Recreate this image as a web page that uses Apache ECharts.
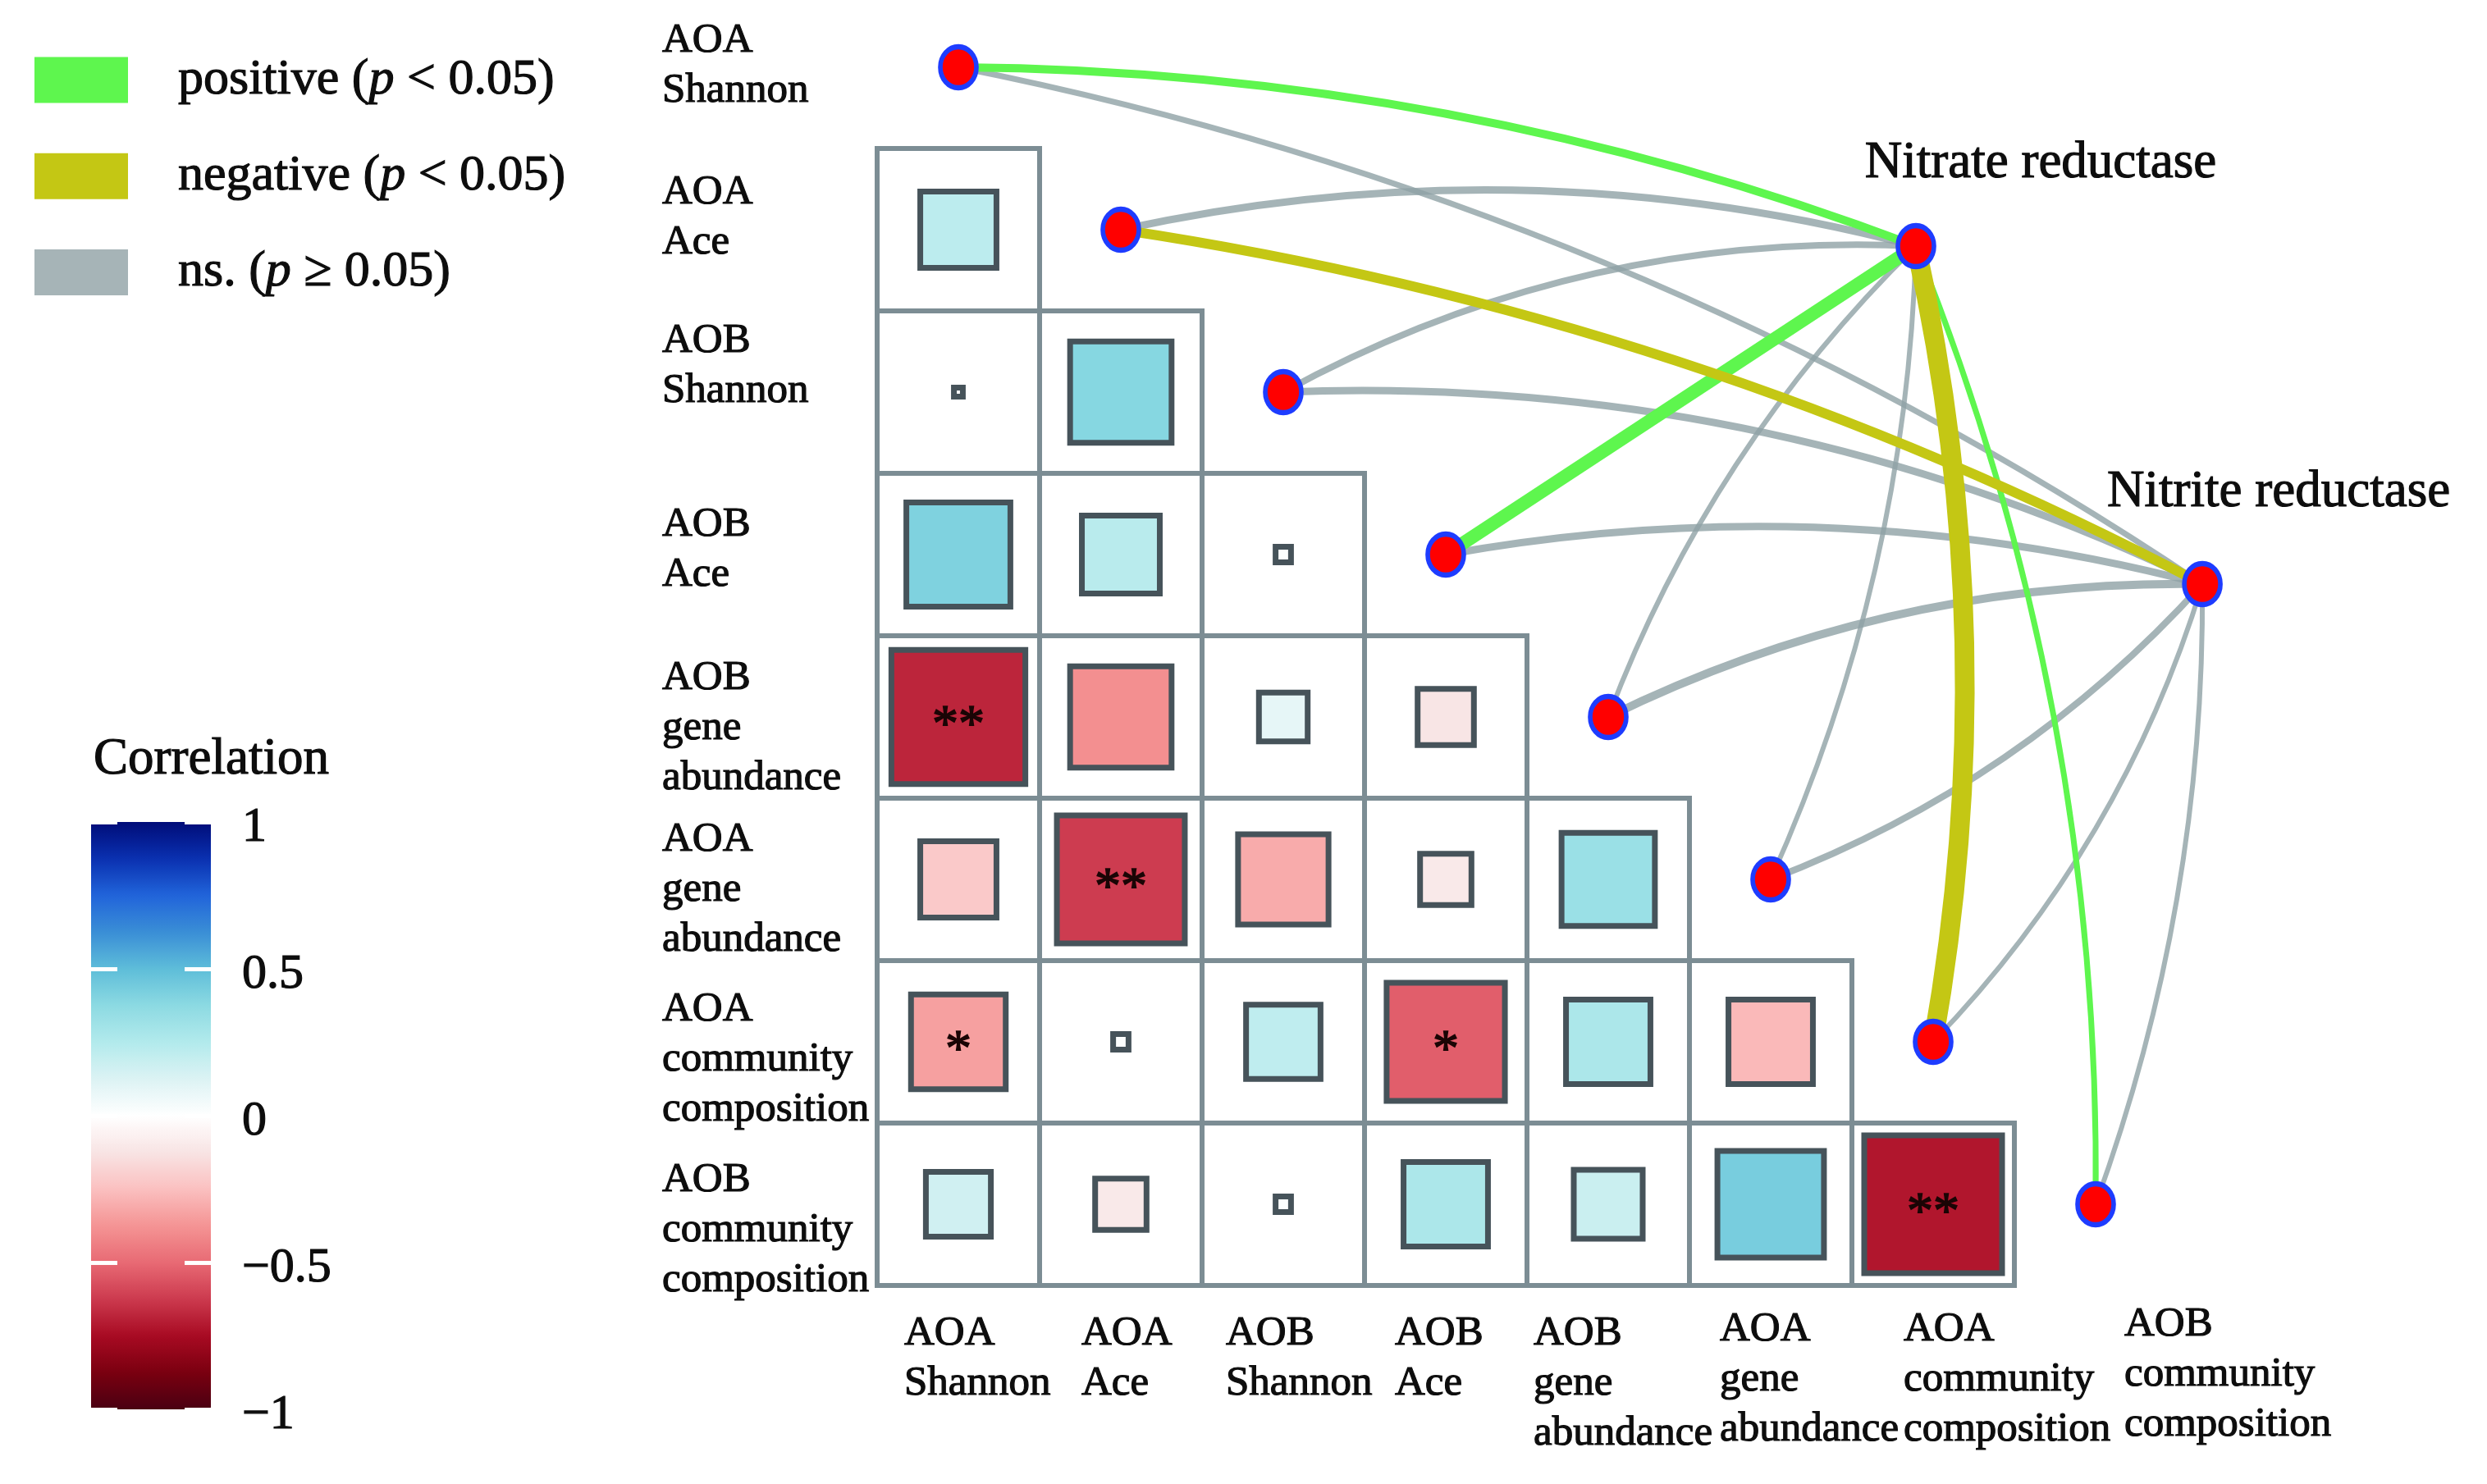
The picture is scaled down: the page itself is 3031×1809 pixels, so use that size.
<!DOCTYPE html>
<html><head><meta charset="utf-8">
<script src="https://cdn.jsdelivr.net/npm/echarts@6/dist/echarts.min.js"></script>
<style>html,body{margin:0;padding:0;background:#fff}#c{width:3031px;height:1809px}</style>
</head><body><div id="c"></div>
<script>
// ---------------- DATA ----------------
const variables = ['AOA\nShannon','AOA\nAce','AOB\nShannon','AOB\nAce','AOB\ngene\nabundance','AOA\ngene\nabundance','AOA\ncommunity\ncomposition','AOB\ncommunity\ncomposition'];
// lower-triangle correlations: row i (1..7) vs columns 0..i-1
const corrRows = [
  [0.22],
  [0.003, 0.39],
  [0.41, 0.23, 0.009],
  [-0.68, -0.39, 0.09, -0.12],
  [-0.22, -0.62, -0.31, -0.10, 0.33],
  [-0.34, 0.009, 0.21, -0.53, 0.27, -0.27],
  [0.16, -0.10, 0.009, 0.27, 0.18, 0.43, -0.72]
];
const sigRows = [
  [''],
  ['', ''],
  ['', '', ''],
  ['**', '', '', ''],
  ['', '**', '', '', ''],
  ['*', '', '', '*', '', ''],
  ['', '', '', '', '', '', '**']
];
const enzymes = ['Nitrate reductase', 'Nitrite reductase'];
const mantelNitrate = [0.25, 0.225, 0.2, 0.4, 0.15, 0.15, 0.6, 0.175];
const signNitrate   = ['pos', 'ns', 'ns', 'pos', 'ns', 'ns', 'neg', 'pos'];
const mantelNitrite = [0.175, 0.3, 0.225, 0.225, 0.25, 0.2, 0.15, 0.15];
const signNitrite   = ['ns', 'neg', 'ns', 'ns', 'ns', 'ns', 'ns', 'ns'];
const colorbarTicks = [-1, -0.5, 0, 0.5, 1];
const legendNames = ['pos', 'neg', 'ns'];

// ---------------- LAYOUT / STYLE ----------------
const U = 198, OX = 1069, OY = -17;
const XMIN = -1.5, XMAX = 9.6, YMIN = 0.2, YMAX = 9.1;
const FONT = '"Liberation Serif","Times New Roman",serif';
const TXT = '#0d0d0d';
const BOLDEN = { textBorderColor: TXT, textBorderWidth: 1.2 };
const enzymeAnchor = [[6.394, 1.601], [8.157, 3.682]];
const enzymeLabelOffset = [[152, -101], [93, -112]];
const curveNitrate = [0.09, 0.12, 0.14, 0.0, 0.11, -0.10, -0.10, -0.10];
const curveNitrite = [0.10, 0.085, 0.125, 0.11, 0.12, -0.12, -0.12, -0.09];
const yLabelOffset = [-2, -15, -32, -6, 14, 13, 22, 32];
const xLabelDx = [-66, -48, -70, -62, -91, -62, -36, 35];
const xLabelDy = [0, 0, 0, 0, 0, -5, -5, -11];
const edgeColors = { pos: '#5EF64E', neg: '#C4C714', ns: '#8FA1A5' };
const legendColors = { pos: '#5EF64E', neg: '#C4C714', ns: '#A6B4B7' };
const colorStops = ['#4A0012','#7A0010','#A80A22','#CC3A4E','#E86A74','#F49494','#FBC0C0','#F8E4E4','#FFFFFF','#DCF3F4','#B2EAEC','#8CDAE2','#5EBDD9','#3A8ED6','#2164DA','#0A30B0','#000C78'];

// ---------------- BUILD ----------------
const cellData = [], cellSig = [];
corrRows.forEach((row, i) => row.forEach((v, c) => { cellData.push([c, i + 1, v]); cellSig.push(sigRows[i][c]); }));

const edgeData = { pos: [], neg: [], ns: [] };
variables.forEach((_, i) => {
  [[mantelNitrate, signNitrate, curveNitrate], [mantelNitrite, signNitrite, curveNitrite]].forEach((m, j) => {
    edgeData[m[1][i]].push({ coords: [[i + 0.5, i + 0.5], enzymeAnchor[j]], lineStyle: { width: m[0][i] * 40, curveness: m[2][i] } });
  });
});

const nodeData = variables.map((_, i) => ({ value: [i + 0.5, i + 0.5] }))
  .concat(enzymes.map((n, j) => ({ name: n, value: enzymeAnchor[j], label: Object.assign({ show: true, position: 'inside', offset: enzymeLabelOffset[j], formatter: n, color: TXT, fontFamily: FONT, fontSize: 63 }, BOLDEN) })));

const yLabelData = variables.map((n, i) => ({ value: [(807 - OX) / U, i + 0.5 + yLabelOffset[i] / U], name: n }));
const xLabelData = variables.map((n, i) => ({ value: [i + 0.5 + xLabelDx[i] / U, (1595 + xLabelDy[i] - OY) / U], name: n }));

const legendText = {
  pos: '{s|}{n|positive (}{i|p}{n| < 0.05)}',
  neg: '{s|}{n|negative (}{i|p}{n| < 0.05)}',
  ns: '{s|}{n|ns. (}{i|p}{n| \u2265 0.05)}'
};

const chart = echarts.init(document.getElementById('c'), null, { renderer: 'canvas' });
const lineSeries = (key, z, opacity) => ({
  type: 'lines', name: key, coordinateSystem: 'cartesian2d', xAxisIndex: 0, yAxisIndex: 0, z: z, silent: true,
  itemStyle: { color: legendColors[key] },
  lineStyle: { color: edgeColors[key], opacity: opacity },
  data: edgeData[key]
});
const richText = (extra) => Object.assign({ fontFamily: FONT, fontSize: 62, color: TXT, lineHeight: 56 }, BOLDEN, extra || {});

chart.setOption({
  animation: false,
  backgroundColor: '#fff',
  title: { text: 'Correlation', left: 114, top: 895, padding: 0, textStyle: Object.assign({ fontFamily: FONT, fontSize: 63, fontWeight: 'normal', color: TXT }, BOLDEN) },
  legend: {
    left: 42, top: 66, orient: 'vertical', padding: 0, itemWidth: 114, itemHeight: 56, itemGap: 54,
    selectedMode: false, icon: 'rect',
    data: legendNames.map(k => ({ name: k, itemStyle: { color: legendColors[k] } })),
    formatter: n => legendText[n],
    textStyle: {
      fontFamily: FONT, fontSize: 62, color: TXT,
      rich: {
        s: { width: 56, lineHeight: 56 },
        n: richText(),
        i: richText({ fontStyle: 'italic' })
      }
    }
  },
  visualMap: {
    type: 'continuous', min: -1, max: 1, dimension: 2, seriesIndex: 0, calculable: false, orient: 'vertical',
    left: 111, top: 1002, itemWidth: 146, itemHeight: 716, padding: 0, hoverLink: false,
    inRange: { color: colorStops }
  },
  grid: [
    { left: OX + XMIN * U, top: OY + YMIN * U, width: (XMAX - XMIN) * U, height: (YMAX - YMIN) * U },
    { left: 111, top: 1002, width: 146, height: 716 }
  ],
  xAxis: [
    { gridIndex: 0, type: 'value', min: XMIN, max: XMAX, show: false },
    { gridIndex: 1, type: 'value', min: 0, max: 1, show: false }
  ],
  yAxis: [
    { gridIndex: 0, type: 'value', min: YMIN, max: YMAX, inverse: true, show: false },
    { gridIndex: 1, type: 'value', position: 'left', min: -1, max: 1, interval: 0.5, z: 10,
      axisLine: { show: false }, splitLine: { show: false }, axisLabel: { show: false },
      axisTick: { show: true, inside: true, length: 32, lineStyle: { color: '#fff', width: 5 } } },
    { gridIndex: 1, type: 'value', position: 'right', min: -1, max: 1, interval: 0.5, z: 10,
      axisLine: { show: false }, splitLine: { show: false },
      axisTick: { show: true, inside: true, length: 32, lineStyle: { color: '#fff', width: 5 } },
      axisLabel: { show: true, margin: 38, showMinLabel: true, showMaxLabel: true, fontFamily: FONT, fontSize: 60, color: TXT,
        rich: { t: Object.assign({ fontFamily: FONT, fontSize: 60, color: TXT, padding: [14, 0, 0, 0] }, BOLDEN) },
        formatter: v => colorbarTicks.indexOf(v) < 0 ? '' : '{t|' + (v < 0 ? '\u2212' : '') + Math.abs(v) + '}' } }
  ],
  series: [
    {
      type: 'custom', name: 'corr', coordinateSystem: 'cartesian2d', xAxisIndex: 0, yAxisIndex: 0, z: 2, silent: true, clip: false,
      data: cellData,
      renderItem: (params, api) => {
        const c = api.value(0), r = api.value(1), v = api.value(2);
        const p0 = api.coord([c, r]), p1 = api.coord([c + 1, r + 1]);
        const w = p1[0] - p0[0], h = p1[1] - p0[1];
        const cx = p0[0] + w / 2, cy = p0[1] + h / 2;
        const s = Math.sqrt(Math.abs(v)) * w;
        const sig = cellSig[params.dataIndex];
        const children = [
          { type: 'rect', shape: { x: p0[0], y: p0[1], width: w, height: h }, style: { fill: 'none', stroke: '#7C8D94', lineWidth: 6 } },
          { type: 'rect', shape: { x: cx - s / 2, y: cy - s / 2, width: s, height: s }, style: { fill: api.visual('color'), stroke: '#46535A', lineWidth: 7 } }
        ];
        if (sig) children.push({ type: 'text', x: cx, y: cy + 12, style: { text: sig, fontFamily: FONT, fontSize: 64, fill: '#1a0505', stroke: '#1a0505', lineWidth: 1.5, align: 'center', verticalAlign: 'middle' } });
        return { type: 'group', children: children };
      }
    },
    lineSeries('ns', 3, 0.8),
    lineSeries('pos', 4, 1),
    lineSeries('neg', 4, 1),
    {
      type: 'scatter', name: 'nodes', xAxisIndex: 0, yAxisIndex: 0, z: 6, silent: true, clip: false,
      symbol: 'circle', symbolSize: [44, 50],
      itemStyle: { color: '#FF0000', borderColor: '#1E3CFF', borderWidth: 6, opacity: 1 },
      data: nodeData
    },
    {
      type: 'scatter', name: 'ylabels', xAxisIndex: 0, yAxisIndex: 0, z: 6, silent: true, clip: false,
      symbolSize: 0, itemStyle: { color: 'transparent', opacity: 1 },
      label: Object.assign({ show: true, position: 'right', distance: 0, formatter: p => p.name, align: 'left', fontFamily: FONT, fontSize: 51, lineHeight: 61, color: TXT }, BOLDEN),
      data: yLabelData
    },
    {
      type: 'scatter', name: 'xlabels', xAxisIndex: 0, yAxisIndex: 0, z: 6, silent: true, clip: false,
      symbolSize: 0, itemStyle: { color: 'transparent', opacity: 1 },
      label: Object.assign({ show: true, position: 'insideTopLeft', distance: 0, formatter: p => p.name, align: 'left', verticalAlign: 'top', fontFamily: FONT, fontSize: 51, lineHeight: 61, color: TXT }, BOLDEN),
      data: xLabelData
    }
  ]
});
</script></body></html>
